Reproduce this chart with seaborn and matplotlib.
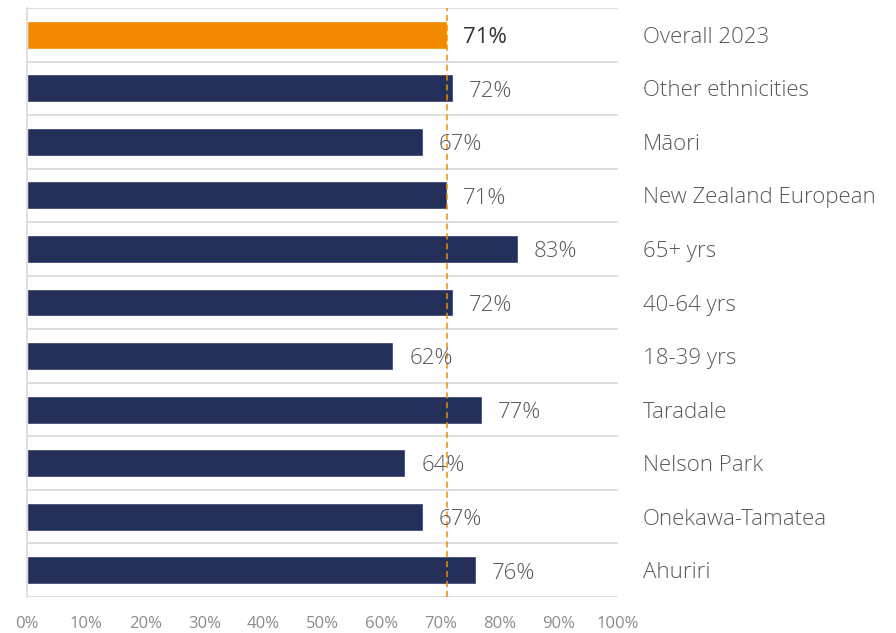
import matplotlib
matplotlib.use("Agg")
import matplotlib.pyplot as plt
import seaborn as sns
import numpy as np

# datos del gráfico (de arriba hacia abajo)
categories = ["Overall 2023", "Other ethnicities", "Māori", "New Zealand European",
              "65+ yrs", "40-64 yrs", "18-39 yrs", "Taradale", "Nelson Park",
              "Onekawa-Tamatea", "Ahuriri"]
values = [71, 72, 67, 71, 83, 72, 62, 77, 64, 67, 76]
overall = 71
x_ticks = [0, 10, 20, 30, 40, 50, 60, 70, 80, 90, 100]

ORANGE = "#F28A00"
NAVY = "#25305A"
colors = [ORANGE] + [NAVY] * (len(categories) - 1)

sns.set_style("white")
plt.rcParams['font.family'] = ['Open Sans', 'DejaVu Sans']

fig = plt.figure(figsize=(8.96, 6.33), dpi=100)
ax = fig.add_axes([27 / 896, 1 - 597 / 633, (618 - 27) / 896, (597 - 8) / 633])

sns.barplot(x=values, y=categories, hue=categories, palette=colors,
            legend=False, width=0.52, orient="h", ax=ax, saturation=1)

ax.set_xlim(0, 100)
ax.set_ylim(len(categories) - 0.5, -0.5)

# línea de referencia del total
ax.axvline(overall, color=ORANGE, linestyle=(0, (4, 2.5)), linewidth=1.1, zorder=3)

# etiquetas de valores
for i, v in enumerate(values):
    first = i == 0
    ax.annotate(f"{v}%", xy=(v, i), xytext=(11.5, -2), textcoords="offset points",
                va="center", ha="left", fontsize=16,
                color="#333333" if first else "#595959",
                fontweight="normal" if first else "light", zorder=4)

# etiquetas de categorías a la derecha
ax.yaxis.tick_right()
ax.tick_params(axis="y", length=0, pad=18, labelsize=16, labelcolor="#595959")
for lbl in ax.get_yticklabels():
    lbl.set_fontweight("light")

ax.set_xticks(x_ticks)
ax.set_xticklabels([f"{t}%" for t in x_ticks])
ax.tick_params(axis="x", length=0, pad=14, labelsize=12, labelcolor="#8C8C8C")

# líneas horizontales entre categorías
ax.set_yticks(np.arange(-0.5, len(categories)), minor=True)
ax.tick_params(axis="y", which="minor", length=0)
ax.grid(which="minor", axis="y", color="#D9D9D9", linewidth=1.2)
ax.grid(which="major", visible=False)
ax.set_axisbelow(True)

for s in ["top", "right", "bottom"]:
    ax.spines[s].set_visible(False)
ax.spines["left"].set_color("#D9D9D9")
ax.spines["left"].set_linewidth(1.2)

ax.set_xlabel("")
ax.set_ylabel("")

fig.savefig("out.png", dpi=100)
